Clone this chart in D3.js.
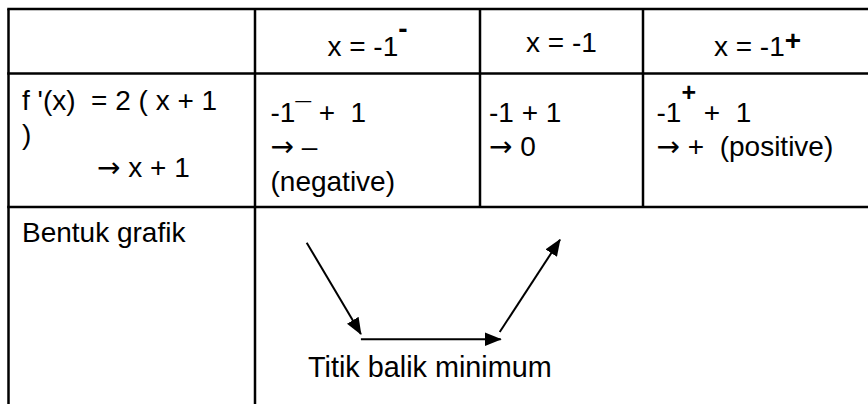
<!DOCTYPE html>
<html><head><meta charset="utf-8">
<script src="https://cdn.jsdelivr.net/npm/d3@7"></script>
<style>html,body{margin:0;padding:0;background:#fff;}svg{display:block;}</style>
</head><body>
<svg id="chart" width="868" height="404"></svg>
<script>
// ---------- data ----------
const columnHeaders = [
  [],
  [{t: "x = -1"}, {t: "-", sup: true}],
  [{t: "x = -1"}],
  [{t: "x = -1"}, {t: "+", sup: true}]
];
const derivativeLabel = [
  [{t: "f '(x)  = 2 ( x + 1"}],
  [{t: ")"}],
  [{t: "\u2192 x + 1"}]
];
const derivativeCells = [
  [[{t: "-1"}, {t: "\u00af"}, {t: " +  1"}], [{t: "\u2192 \u2013"}], [{t: "(negative)"}]],
  [[{t: "-1 + 1"}], [{t: "\u2192 0"}]],
  [[{t: "-1"}, {t: "+", sup: true}, {t: " +  1"}], [{t: "\u2192 +  (positive)"}]]
];
const shapeRowLabel = "Bentuk grafik";
const shapeCaption = "Titik balik minimum";
// gradient sign sequence and the sketched path (relative units)
const gradientSigns = ["-", "0", "+"];
const shapeSegments = [
  {sign: "-", x0: 0.000, y0: 0.97, x1: 0.214, y1: 0.053},
  {sign: "0", x0: 0.214, y0: 0.000, x1: 0.766, y1: 0.000},
  {sign: "+", x0: 0.762, y0: 0.073, x1: 1.000, y1: 1.000}
];

// ---------- layout ----------
const W = 868, H = 404;
const FONT = "'Liberation Sans', Arial, sans-serif";
const ARROW_FONT = "'DejaVu Sans', sans-serif";
const FS = 28;
const colEdges = [8.5, 255, 480, 643, W];
const rowEdges = [9, 73.5, 207, H];
const lineW = 2.5;

const svg = d3.select("#chart");
svg.append("rect").attr("width", W).attr("height", H).attr("fill", "#fff");

const x = d3.scaleLinear().domain([0, 1]).range([306.7, 560]);
const y = d3.scaleLinear().domain([0, 1]).range([339.3, 239.7]);

// grid lines
const g = svg.append("g").attr("stroke", "#000").attr("stroke-width", lineW);
[rowEdges[0], rowEdges[1], rowEdges[2]].forEach(yy =>
  g.append("line").attr("x1", colEdges[0] - lineW / 2).attr("x2", W).attr("y1", yy).attr("y2", yy));
g.append("line").attr("x1", colEdges[0]).attr("x2", colEdges[0]).attr("y1", rowEdges[0]).attr("y2", H);
g.append("line").attr("x1", colEdges[1]).attr("x2", colEdges[1]).attr("y1", rowEdges[0]).attr("y2", H);
[colEdges[2], colEdges[3]].forEach(xx =>
  g.append("line").attr("x1", xx).attr("x2", xx).attr("y1", rowEdges[0]).attr("y2", rowEdges[2]));

function writeLine(sel, segs, px, py, anchor, supStyle, fs) {
  const t = sel.append("text")
    .attr("x", px).attr("y", py)
    .attr("font-family", FONT).attr("font-size", fs || FS)
    .attr("text-anchor", anchor || "start")
    .attr("fill", "#000")
    .attr("xml:space", "preserve")
    .style("white-space", "pre");
  let pendingDy = 0;
  segs.forEach(s => {
    if (s.sup) {
      t.append("tspan").text(s.t)
        .attr("font-weight", supStyle.weight)
        .attr("font-size", supStyle.size)
        .attr("dy", supStyle.dy);
      pendingDy = -supStyle.dy;
    } else {
      const parts = s.t.split("\u2192");
      parts.forEach((p, k) => {
        if (k > 0) {
          const a = t.append("tspan").text("\u2192").attr("font-family", ARROW_FONT);
          if (pendingDy) { a.attr("dy", pendingDy); pendingDy = 0; }
        }
        if (p.length) {
          const ts = t.append("tspan").text(p);
          if (pendingDy) { ts.attr("dy", pendingDy); pendingDy = 0; }
        }
      });
    }
  });
  return t;
}

const txt = svg.append("g");

// header row
columnHeaders.forEach((segs, i) => {
  if (!segs.length) return;
  const cx = (colEdges[i] + colEdges[i + 1]) / 2 + (i === 3 ? 2 : 0);
  const hasSup = segs.some(s => s.sup);
  const base = hasSup ? 55.5 : 52;
  const supStyle = segs.some(s => s.sup && s.t === "-")
    ? {weight: "bold", size: 28, dy: -18}
    : {weight: "bold", size: 28, dy: -6};
  writeLine(txt, segs, cx, base, "middle", supStyle);
});

// derivative row
const labelIndent = [0, 0, 75];
derivativeLabel.forEach((segs, j) => {
  writeLine(txt, segs, 22 + labelIndent[j], 110 + j * 33.5, "start", {});
});
const cellPad = [15.5, 9, 13.5];
derivativeCells.forEach((lines, i) => {
  lines.forEach((segs, j) => {
    writeLine(txt, segs, colEdges[i + 1] + cellPad[i], 121.7 + j * 34.7, "start",
      {weight: "bold", size: 25, dy: -21});
  });
});

// shape row
writeLine(txt, [{t: shapeRowLabel}], 22, 242.3, "start", {});

const defs = svg.append("defs");
defs.append("marker").attr("id", "head")
  .attr("viewBox", "0 -7 17 14").attr("refX", 16).attr("refY", 0)
  .attr("markerUnits", "userSpaceOnUse")
  .attr("markerWidth", 17).attr("markerHeight", 14)
  .attr("orient", "auto")
  .append("path").attr("d", "M0,-6.8L17,0L0,6.8Z").attr("fill", "#000");

svg.append("g").selectAll("line").data(shapeSegments).join("line")
  .attr("x1", d => x(d.x0)).attr("y1", d => y(d.y0))
  .attr("x2", d => x(d.x1)).attr("y2", d => y(d.y1))
  .attr("stroke", "#000").attr("stroke-width", 2)
  .attr("marker-end", "url(#head)");

writeLine(txt, [{t: shapeCaption}], 308, 377, "start", {}, 28.8);
</script>
</body></html>
